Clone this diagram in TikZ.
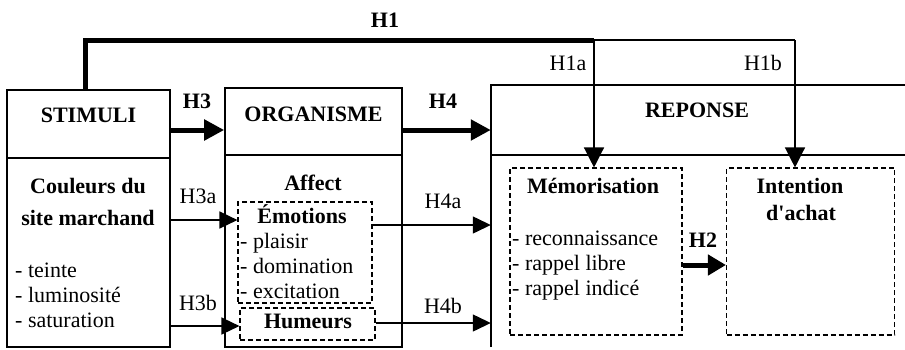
\documentclass[tikz,border=0pt]{standalone}
\usepackage{fontspec}
\setmainfont{Liberation Serif}
\usetikzlibrary{arrows.meta}
\begin{document}
\begin{tikzpicture}[x=1pt,y=-1pt,
  font=\fontsize{22}{25}\selectfont,
  box/.style={draw, line width=1.6pt, inner sep=0pt},
  dbox/.style={draw, dash pattern=on 5pt off 3pt, line width=1.1pt, inner sep=0pt},
  txt/.style={inner sep=0pt, anchor=base},
  btxt/.style={inner sep=0pt, anchor=base, font=\fontsize{22}{25}\selectfont\bfseries},
  ltxt/.style={inner sep=0pt, anchor=base west, align=left},
  thinarrow/.style={line width=1.3pt, -{Triangle[length=18pt,width=17pt]}},
  thickarrow/.style={line width=5pt, -{Triangle[length=20pt,width=20pt]}},
  thickline/.style={line width=5pt},
  thinline/.style={line width=1.3pt}]
\useasboundingbox (0,0) rectangle (905,349);

% main boxes
\node[box, minimum width=163pt, minimum height=257pt] (stim) at (88.5,218.5) {};
\node[box, minimum width=177pt, minimum height=259pt] (org) at (313.5,217.5) {};
\node[inner sep=0pt, minimum width=414pt, minimum height=262pt] (rep) at (698,216) {};
\draw[line width=1.6pt] (rep.south west) -- (rep.north west) -- (rep.north east);

% dividers
\coordinate (ds) at (0,158);
\coordinate (dr) at (0,155);
\draw[line width=1.3pt] (stim.west |- ds) -- (stim.east |- ds);
\draw[line width=1.3pt] (org.west |- dr) -- (org.east |- dr);
\draw[line width=1.3pt] (rep.west |- dr) -- (rep.east |- dr);

% titles
\node[btxt] (tstim) at (88.5,122) {STIMULI};
\node[btxt] (torg) at (313.5,121) {ORGANISME};
\node[btxt] (trep) at (697,117) {REPONSE};

% stimuli content
\node[btxt] (c1) at (88,193) {Couleurs du};
\node[btxt] (c2) at (88,225) {site marchand};
\node[ltxt] (clist) at (15,327) {- teinte\\- luminosité\\- saturation};

% organisme content
\node[btxt] (aff) at (313,190) {Affect};
\node[dbox, minimum width=134pt, minimum height=101pt] (emo) at (305,252.5) {};
\node[dbox, minimum width=135pt, minimum height=32pt] (hum) at (307.5,324) {};
\node[btxt] (temo) at (302,223) {Émotions};
\node[ltxt] (elist) at (240,298) {- plaisir\\- domination\\- excitation};
\node[btxt] (thum) at (308,328) {Humeurs};

% reponse content
\node[dbox, minimum width=172pt, minimum height=167pt] (mem) at (596,251.5) {};
\node[dbox, minimum width=168pt, minimum height=167pt] (int) at (810.5,251.5) {};
\node[btxt] (tmem) at (593,193) {Mémorisation};
\node[ltxt] (mlist) at (512,295) {- reconnaissance\\- rappel libre\\- rappel indicé};
\node[btxt] (tint) at (800,193) {Intention};
\node[btxt] (tach) at (801,220) {d\textquotesingle achat};

% arrow levels
\coordinate (y3) at (0,130);
\coordinate (y3a) at (0,220);
\coordinate (y3b) at (0,326);
\coordinate (y4a) at (0,225);
\coordinate (y4b) at (0,323);
\coordinate (y2) at (0,265);

\draw[thickarrow] (stim.east |- y3) -- (org.west |- y3);
\draw[thickarrow] (org.east |- y3) -- (rep.west |- y3);
\draw[thinarrow] (stim.east |- y3a) -- (emo.west |- y3a);
\draw[thinarrow] (stim.east |- y3b) -- (hum.west |- y3b);
\draw[thinarrow] (emo.east |- y4a) -- (rep.west |- y4a);
\draw[thinarrow] (hum.east |- y4b) -- (rep.west |- y4b);
\draw[line width=5pt, -{Triangle[length=18pt,width=20pt]}] (mem.east |- y2) -- (int.west |- y2);

% H1
\coordinate (h1c) at (85,40);
\coordinate (h1a) at (594,40);
\coordinate (h1b) at (795,40);
\draw[thickline] (stim.north -| h1c) -- (h1c) -- (h1a);
\draw[thinline] (h1a) -- (h1b);
\draw[line width=1.3pt, -{Triangle[length=20pt,width=20pt]}] (h1a) -- (mem.north -| h1a);
\draw[line width=1.3pt, -{Triangle[length=20pt,width=20pt]}] (h1b) -- (int.north -| h1b);

% labels
\node[btxt] (lh1) at (385,27) {H1};
\node[txt] (lh1a) at (568,70) {H1a};
\node[txt] (lh1b) at (763,70) {H1b};
\node[btxt] (lh3) at (197,108) {H3};
\node[btxt] (lh4) at (443,108) {H4};
\node[txt] (lh3a) at (198,203) {H3a};
\node[txt] (lh3b) at (198,310) {H3b};
\node[txt] (lh4a) at (443,208) {H4a};
\node[txt] (lh4b) at (443,313) {H4b};
\node[btxt] (lh2) at (703,247) {H2};
\end{tikzpicture}
\end{document}
